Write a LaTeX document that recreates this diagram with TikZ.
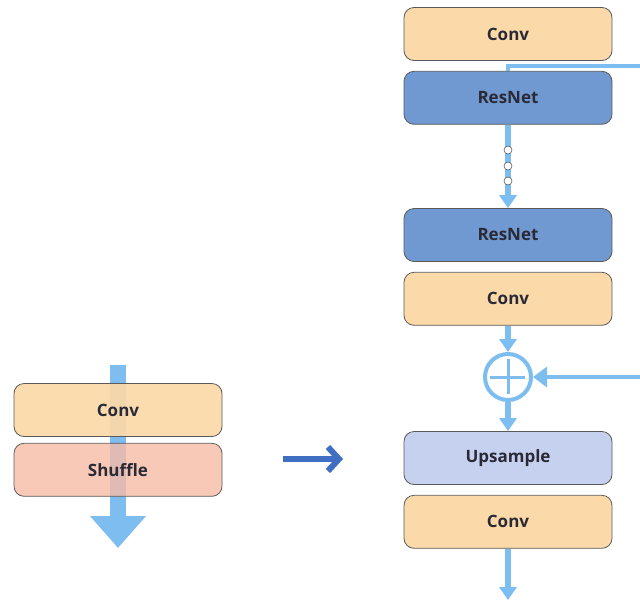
\documentclass[tikz,border=0pt]{standalone}
\usepackage{fontspec}
\setsansfont{Open Sans}
\definecolor{peach}{HTML}{FBD9A8}
\definecolor{salmon}{HTML}{F8BBA5}
\definecolor{resblue}{HTML}{7199D1}
\definecolor{lilac}{HTML}{C6D0EF}
\definecolor{sky}{HTML}{7DBDEF}
\definecolor{royal}{HTML}{3F6EC2}
\definecolor{edge}{HTML}{5A5A5A}
\definecolor{ink}{HTML}{2A2A36}
\usetikzlibrary{arrows.meta, positioning}
\tikzset{
  block/.style={draw=edge, line width=0.8pt, rounded corners=10pt, align=center,
                minimum width=208pt, minimum height=53pt, text=ink,
                font=\sffamily\bfseries\fontsize{17}{20}\selectfont},
  flow/.style={-{Triangle[length=13pt,width=17pt]}, line width=6pt, color=sky},
  skip/.style={line width=4pt, color=sky},
  dot/.style={circle, draw=edge, fill=white, line width=0.6pt, minimum size=8pt, inner sep=0pt},
}

\begin{document}
\begin{tikzpicture}[x=1pt,y=-1pt,node distance=10pt]
\useasboundingbox (0,0) rectangle (640,603);
\clip (0,0) rectangle (640,603);
% left: conv + shuffle
\draw[line width=16pt,color=sky,-{Triangle[length=32pt,width=54pt]}] (118,365)--(118,548);
\node[block,fill=peach,fill opacity=.93,text opacity=1] (lconv) at (118,410) {Conv};
\node[block,fill=salmon,fill opacity=.8,text opacity=1,below=6pt of lconv] (lshuf) {Shuffle};
\coordinate (mida) at (283,459);
\coordinate (midb) at (343,459);
\draw[-{Straight Barb[length=11pt,width=24pt]},line width=6pt,color=royal] (mida)--(midb);
% right: generator chain
\node[block,fill=peach] (conva) at (508,34) {Conv};
\node[block,fill=resblue,below=of conva] (resa) {ResNet};
\node[block,fill=resblue] (resb) at (508,235) {ResNet};
\node[block,fill=peach,below=of resb] (convb) {Conv};
\node[circle,draw=sky,line width=4pt,fill=white,minimum size=46pt,inner sep=0pt] (addop) at (508,377) {};
\draw[line width=3pt,color=sky] (addop.west)++(7,0)--++(35,0);
\draw[line width=3pt,color=sky] (addop.north)++(0,7)--++(0,35);
\node[block,fill=lilac] (upsm) at (508,458) {Upsample};
\node[block,fill=peach,below=of upsm] (convc) {Conv};
\coordinate (tail) at (508,600);
\coordinate (fork) at (508,66);
\draw[flow] (resa)--(resb);
\foreach \yy in {150,166,181} \node[dot] at (508,\yy) {};
\draw[flow] (convb)--(addop);
\draw[flow] (addop)--(upsm);
\draw[flow] (convc)--(tail);
\draw[skip] (resa.north)--(fork)--(660,66)--(660,377);
\draw[skip,-{Triangle[length=14pt,width=20pt]}] (660,377)--(addop.east);
\end{tikzpicture}
\end{document}
